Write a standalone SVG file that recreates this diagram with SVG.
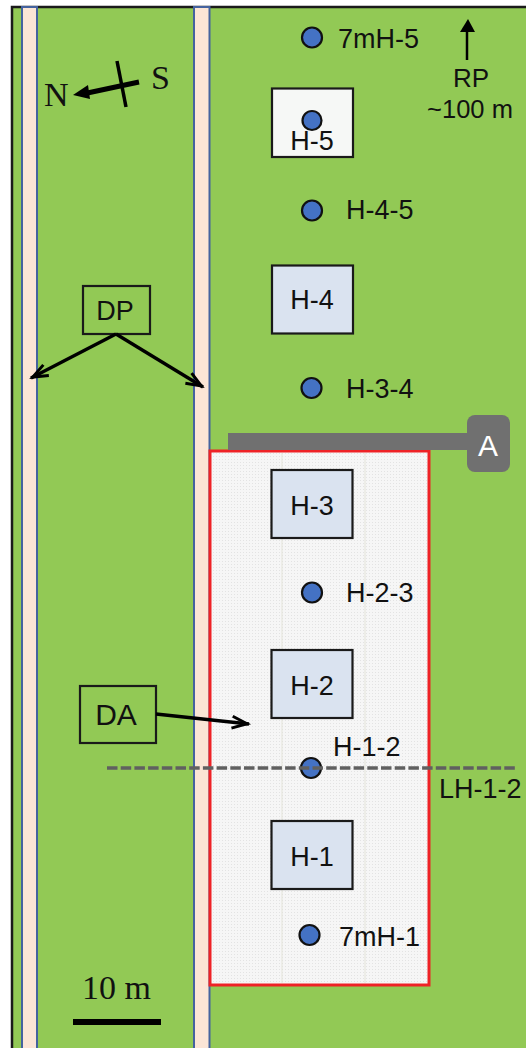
<svg xmlns="http://www.w3.org/2000/svg" width="526" height="1048" viewBox="0 0 526 1048">
<style>
.s{font-family:"Liberation Sans",Arial,sans-serif;font-size:27px;fill:#111}
.t{font-family:"Liberation Serif","Times New Roman",serif;font-size:34px;fill:#111}
.m{text-anchor:middle}
.h{fill:#dae3f0;stroke:#1a1a1a;stroke-width:2.2}
.d{fill:#4472c4;stroke:#111;stroke-width:2.2}
.b{fill:none;stroke:#1a1a1a;stroke-width:2.2}
.r{fill:#fbe5d6;stroke:#44639f;stroke-width:2}
.k{stroke:#000;stroke-width:3.4;fill:none}
</style>
<defs>
<marker id="a" markerUnits="userSpaceOnUse" markerWidth="22" markerHeight="16" refX="19" refY="8" orient="auto"><path d="M2 2L17 8L2 14" fill="none" stroke="#000" stroke-width="3"/></marker>
<pattern id="p" width="3" height="3" patternUnits="userSpaceOnUse"><rect width="3" height="3" fill="#f6f6f6"/><rect width="1" height="1" fill="#e3e3e3"/></pattern>
</defs>
<rect width="526" height="1048" fill="#fff"/>
<rect x="12" y="7" width="530" height="1060" fill="#92c955" stroke="#1a1a1a" stroke-width="2.5"/>
<rect class="r" x="22" y="7" width="15" height="1050"/>
<rect class="r" x="194" y="7" width="15.500" height="1050"/>
<rect x="210" y="451" width="219" height="534" fill="url(#p)" stroke="#ee2226" stroke-width="3"/>
<path d="M282 453V983M365 453V983" stroke="#e4e4da" stroke-width="1" fill="none"/>
<g id="A"><rect x="228" y="433" width="250" height="17" fill="#707070"/><rect x="467" y="415" width="43" height="57" rx="8" fill="#707070"/><text class="s m" x="488" y="456" style="fill:#fff;font-size:30px">A</text></g>
<g id="H-5"><rect x="272" y="88.500" width="81" height="68.500" fill="#f6f8f6" stroke="#1a1a1a" stroke-width="2.200"/><text class="s m" x="312" y="150">H-5</text><circle class="d" cx="312" cy="120.500" r="9.500"/></g>
<g id="H-4"><rect class="h" x="272" y="265.500" width="81" height="68"/><text class="s m" x="312" y="309">H-4</text></g>
<g id="H-3"><rect class="h" x="271.500" y="470" width="81" height="68"/><text class="s m" x="312" y="515">H-3</text></g>
<g id="H-2"><rect class="h" x="271.500" y="650" width="81" height="68"/><text class="s m" x="312" y="695">H-2</text></g>
<g id="H-1"><rect class="h" x="271.500" y="821" width="81" height="68"/><text class="s m" x="312" y="866">H-1</text></g>
<g id="7mH-5"><circle class="d" cx="312" cy="37.500" r="10"/><text class="s" x="338" y="48">7mH-5</text></g>
<g id="H-4-5"><circle class="d" cx="312" cy="210.500" r="10"/><text class="s" x="346" y="219">H-4-5</text></g>
<g id="H-3-4"><circle class="d" cx="311.500" cy="388" r="10"/><text class="s" x="346" y="398">H-3-4</text></g>
<g id="H-2-3"><circle class="d" cx="312" cy="592.500" r="10"/><text class="s" x="346" y="602">H-2-3</text></g>
<g id="H-1-2"><circle class="d" cx="311" cy="768" r="10"/><text class="s" x="333" y="756">H-1-2</text></g>
<g id="7mH-1"><circle class="d" cx="309.500" cy="935" r="10"/><text class="s" x="339" y="946">7mH-1</text></g>
<g id="RP"><text class="s m" x="471" y="87" style="font-size:26px">RP</text><text class="s m" x="470" y="118" style="font-size:25.500px">~100 m</text></g>
<g id="DP"><rect class="b" x="83" y="286" width="67" height="48"/><text class="s m" x="115" y="320">DP</text></g>
<g id="DA"><rect class="b" x="80" y="686" width="76" height="57"/><text class="s m" x="116" y="725" style="font-size:30px">DA</text></g>
<g id="connectors">
<path class="k" d="M116 334L203 387" marker-end="url(#a)"/>
<path class="k" d="M116 334L31 378" marker-end="url(#a)"/>
<path class="k" d="M156 714L249 724" marker-end="url(#a)"/>
<path d="M107 768H515" stroke="#606060" stroke-width="3.500" stroke-dasharray="10.500 3.200" fill="none"/>
<path d="M467 60V24" stroke="#000" stroke-width="2.500"/>
<path d="M460 32L468 19L475 32Z" fill="#000"/>
<path d="M139 82L85 93.500" stroke="#000" stroke-width="5"/>
<path d="M73 95L88 85L90 99Z" fill="#000"/>
<path d="M117 61L126 107" stroke="#000" stroke-width="3.500"/>
<rect x="73" y="1019" width="88" height="6" fill="#000"/>
</g>
<text class="s" x="439" y="798">LH-1-2</text>
<text class="t" x="44" y="106">N</text>
<text class="t" x="151" y="89">S</text>
<text class="t" x="82" y="999">10 m</text>
</svg>
